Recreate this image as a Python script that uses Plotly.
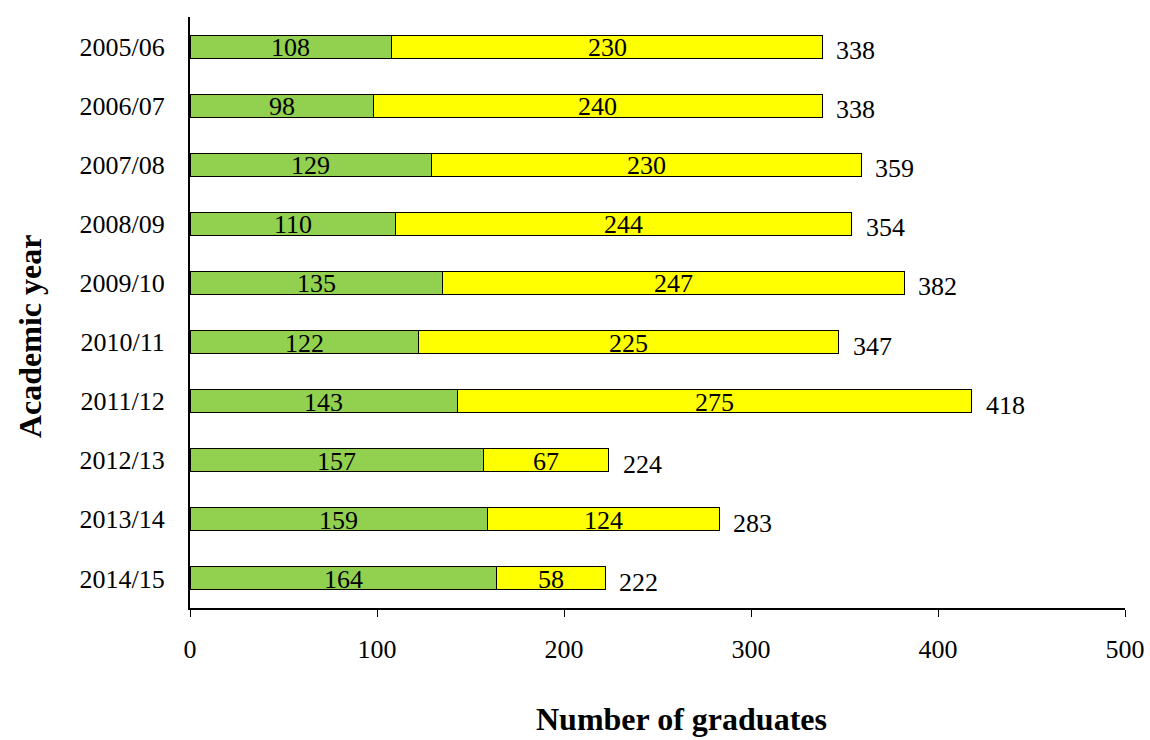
import plotly.graph_objects as go

years = ["2005/06", "2006/07", "2007/08", "2008/09", "2009/10",
         "2010/11", "2011/12", "2012/13", "2013/14", "2014/15"]
green_vals = [108, 98, 129, 110, 135, 122, 143, 157, 159, 164]
yellow_vals = [230, 240, 230, 244, 247, 225, 275, 67, 124, 58]
totals = [g + y for g, y in zip(green_vals, yellow_vals)]
x_ticks = [0, 100, 200, 300, 400, 500]

FONT = "Liberation Serif, Times New Roman, serif"

fig = go.Figure()
fig.add_trace(go.Bar(y=years, x=green_vals, orientation="h",
                     marker=dict(color="#92D050", line=dict(color="#000000", width=1)),
                     showlegend=False, hoverinfo="x"))
fig.add_trace(go.Bar(y=years, x=yellow_vals, orientation="h",
                     marker=dict(color="#FFFF00", line=dict(color="#000000", width=1)),
                     showlegend=False, hoverinfo="x"))

annotations = []
for yr, g, yv, t in zip(years, green_vals, yellow_vals, totals):
    annotations.append(dict(x=g / 2, y=yr, text=str(g), showarrow=False,
                            font=dict(size=26, color="black", family=FONT), yshift=-1))
    annotations.append(dict(x=g + yv / 2, y=yr, text=str(yv), showarrow=False,
                            font=dict(size=26, color="black", family=FONT), yshift=-1))
    annotations.append(dict(x=t, y=yr, text=str(t), showarrow=False, xanchor="left",
                            xshift=12, yshift=-4,
                            font=dict(size=26, color="black", family=FONT)))

annotations.append(dict(text="<b>Number of graduates</b>", xref="paper", yref="paper",
                        x=(681 - 190) / 935, y=-(719 - 608) / 591, showarrow=False,
                        xanchor="center", yanchor="middle",
                        font=dict(size=32, color="black", family=FONT)))
annotations.append(dict(text="<b>Academic year</b>", xref="paper", yref="paper",
                        x=-(190 - 30) / 935, y=1 - (337 - 17) / 591, showarrow=False,
                        xanchor="center", yanchor="middle", textangle=-90,
                        font=dict(size=32, color="black", family=FONT)))

fig.update_layout(
    barmode="stack",
    bargap=0.61,
    width=1150, height=740,
    margin=dict(l=190, r=25, t=17, b=132, autoexpand=False),
    paper_bgcolor="white", plot_bgcolor="white",
    font=dict(family=FONT, size=26, color="black"),
    annotations=annotations,
    xaxis=dict(range=[0, 500], tickvals=x_ticks, ticktext=[str(v) for v in x_ticks],
               showgrid=False, zeroline=False, showline=True, linecolor="black",
               linewidth=2, ticks="outside", ticklen=7, tickcolor="black", tickwidth=1,
               ticklabelstandoff=10, automargin=False,
               tickfont=dict(size=26, family=FONT, color="black")),
    yaxis=dict(autorange="reversed", categoryorder="array", categoryarray=years,
               showgrid=False, zeroline=False, showline=True, linecolor="black",
               linewidth=2, ticks="", ticklabelstandoff=18, automargin=False,
               tickfont=dict(size=26, family=FONT, color="black")),
)

fig.write_html("out.html")
